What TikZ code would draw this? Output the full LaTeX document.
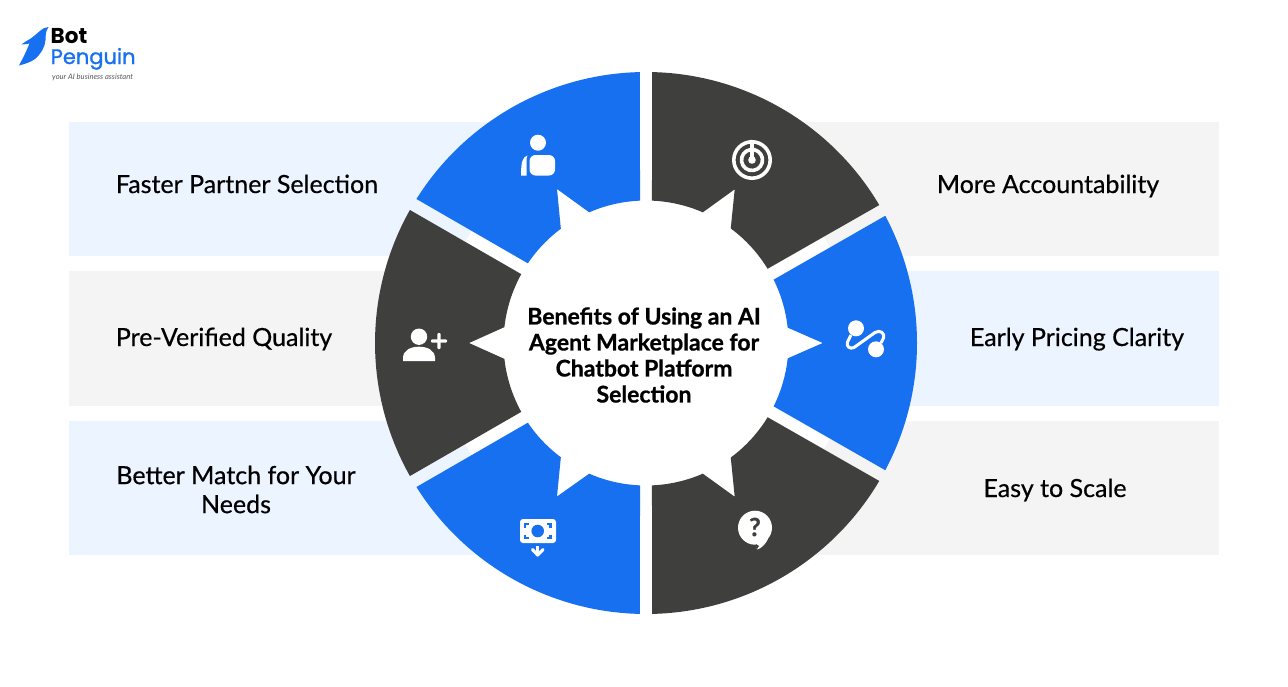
\documentclass[tikz,border=0pt]{standalone}
\usepackage{fontspec}
\setmainfont{Lato}
\newfontfamily\labelfont[FakeBold=0.5]{Lato}
\newfontfamily\titlefont[FakeBold=0.8]{Lato Bold}
\newfontfamily\logofont{Poppins}
\newfontfamily\logofontb[FakeBold=1]{Poppins}
\definecolor{bpblue}{HTML}{1670F0}
\definecolor{bpdark}{HTML}{3F3F3D}
\definecolor{lightblue}{HTML}{ECF5FF}
\definecolor{lightgrey}{HTML}{F4F4F4}
\definecolor{taggrey}{HTML}{555555}
\tikzset{
  bandblue/.style={fill=lightblue,draw=none},
  bandgrey/.style={fill=lightgrey,draw=none},
  sectblue/.style={fill=bpblue,draw=none},
  sectdark/.style={fill=bpdark,draw=none},
  label/.style={font=\labelfont\fontsize{25}{29}\selectfont,text=black,align=center,inner sep=0pt},
  single/.style={label,text height=17pt,text depth=5pt},
  centre/.style={font=\titlefont\fontsize{23}{26}\selectfont,text=black,align=center,inner sep=0pt},
  iconw/.style={fill=white,draw=none},
  iconl/.style={draw=white,line width=3.6pt,fill=none}
}
\begin{document}
\begin{tikzpicture}[x=1pt,y=-1pt]
\useasboundingbox (0,0) rectangle (1288,686);
\fill[white] (0,0) rectangle (1288,686);
% bands
\fill[bandblue] (69,122) rectangle (600,256);
\fill[bandgrey] (69,271) rectangle (600,406);
\fill[bandblue] (69,421) rectangle (600,555);
\fill[bandgrey] (700,122) rectangle (1219,256);
\fill[bandblue] (700,271) rectangle (1219,406);
\fill[bandgrey] (700,421) rectangle (1219,555);
\fill[white] (646,343) circle (207pt);
% sectors
\begin{scope}[shift={(646,343)},y=1pt]
\fill[sectblue] (91.3:271pt) arc[start angle=91.3,end angle=147.9,radius=271pt] -- (146:142.5pt) arc[start angle=146,end angle=126.7,radius=142.5pt] -- (-89,154) -- (113.5:142.5pt) arc[start angle=113.5,end angle=92.4,radius=142.5pt] -- cycle;
\fill[sectdark] (88.7:271pt) arc[start angle=88.7,end angle=30.6,radius=271pt] -- (31.4:142.5pt) arc[start angle=31.4,end angle=53.5,radius=142.5pt] -- (88.7,153.7) -- (66.5:142.5pt) arc[start angle=66.5,end angle=87.6,radius=142.5pt] -- cycle;
\fill[sectblue] (28:271pt) arc[start angle=28,end angle=-28,radius=271pt] -- (-26.4:142.5pt) arc[start angle=-26.4,end angle=-6.2,radius=142.5pt] -- (176.7,0) -- (6.2:142.5pt) arc[start angle=6.2,end angle=26.4,radius=142.5pt] -- cycle;
\fill[sectdark] (271.3:271pt) arc[start angle=271.3,end angle=329.4,radius=271pt] -- (328.6:142.5pt) arc[start angle=328.6,end angle=306.5,radius=142.5pt] -- (88.7,-153.7) -- (293.5:142.5pt) arc[start angle=293.5,end angle=272.4,radius=142.5pt] -- cycle;
\fill[sectblue] (268.7:271pt) arc[start angle=268.7,end angle=212.1,radius=271pt] -- (214:142.5pt) arc[start angle=214,end angle=233.3,radius=142.5pt] -- (-89,-153.5) -- (246.5:142.5pt) arc[start angle=246.5,end angle=267.6,radius=142.5pt] -- cycle;
\fill[sectdark] (150.6:271pt) arc[start angle=150.6,end angle=209.4,radius=271pt] -- (208.9:142.5pt) arc[start angle=208.9,end angle=186.4,radius=142.5pt] -- (-177,0) -- (173.6:142.5pt) arc[start angle=173.6,end angle=151.1,radius=142.5pt] -- cycle;
\end{scope}
% labels
\node[single] (l1) at (247,187) {Faster Partner Selection};
\node[single] (l2) at (224,340) {Pre-Verified Quality};
\node[label] (l3) at (236,489.5) {Better Match for Your\\Needs};
\node[single] (r1) at (1048,187) {More Accountability};
\node[single] (r2) at (1077,340) {Early Pricing Clarity};
\node[single] (r3) at (1055,491) {Easy to Scale};
\node[centre] (title) at (644,355) {Benefits of Using an AI\\Agent Marketplace for\\Chatbot Platform\\Selection};
% icon: person
\fill[iconw] (538,142.7) circle (8pt);
\fill[iconw,rounded corners=6pt] (529.5,155) rectangle (555,175.5);
\fill[iconw] (527.5,155.5) .. controls (522.5,157) and (521,162) .. (521,175.5) -- (526.5,175.5) -- (526.5,160) .. controls (526.5,158) and (527,156.5) .. (527.5,155.5) -- cycle;
% icon: radar
\begin{scope}[shift={(752,160)},y=1pt]
\draw[iconl] (0,0) -- (0,18.2) arc[start angle=90,end angle=-317,radius=18.2pt];
\draw[iconl] (98:10.5pt) arc[start angle=98,end angle=-345,radius=10.5pt];
\fill[iconw] (0,0) circle (3.8pt);
\end{scope}
% icon: person plus
\fill[iconw] (419,336.7) circle (8.2pt);
\fill[iconw] (403,361) -- (403,358) .. controls (403,350) and (411,346.7) .. (419,346.7) .. controls (427,346.7) and (435,350) .. (435,358) -- (435,361) -- cycle;
\fill[iconw,rounded corners=1pt] (431,339.3) rectangle (447,342.7);
\fill[iconw,rounded corners=1pt] (437.3,333) rectangle (440.7,349);
% icon: link
\fill[iconw] (856,328.3) circle (8pt);
\fill[iconw] (876,349.3) circle (8pt);
\draw[iconl,line width=3pt] (851,335) -- (847.5,342) .. controls (846,346.5) and (850,349.5) .. (854,347.5) -- (875,332.5) .. controls (880,329.5) and (885,333) .. (883.5,338) -- (881,343);
% icon: money
\fill[iconw,rounded corners=3pt] (520,519) rectangle (556,543);
\fill[bpblue] (537.7,531) circle (6.3pt);
\draw[bpblue,line width=2.2pt] (525,527.5) -- (525,524) -- (528.5,524);
\draw[bpblue,line width=2.2pt] (550.5,527.5) -- (550.5,524) -- (547,524);
\draw[bpblue,line width=2.2pt] (525,534.5) -- (525,538) -- (528.5,538);
\draw[bpblue,line width=2.2pt] (550.5,534.5) -- (550.5,538) -- (547,538);
\draw[white,line width=3.2pt] (537.7,546) -- (537.7,554);
\draw[white,line width=3.2pt,line cap=round,line join=round] (532.5,549.5) -- (537.7,555) -- (543,549.5);
% icon: question
\fill[iconw] (755,527.7) circle (17pt);
\fill[iconw] (756,540) -- (757,549.5) .. controls (761,548.5) and (765,545) .. (768,539) -- cycle;
\fill[bpdark] (756.7,549.6) -- (756,544) -- (759,546) -- cycle;
\node[inner sep=0pt,text=bpdark,font=\titlefont\fontsize{25}{25}\selectfont] (q) at (755,527) {?};
% logo
\fill[bpblue] (48.5,27) .. controls (45,27.6) and (42.5,28.3) .. (40.5,30.5) .. controls (37,33.5) and (33,37) .. (30,39) .. controls (27,41) and (24,42) .. (21.5,44.5) .. controls (24.5,44.5) and (27,44) .. (29.5,43.5) .. controls (27,50) and (23,58) .. (19,65.5) .. controls (25,64) and (31,62) .. (35,59) .. controls (41,54) and (45,47) .. (45.5,40) .. controls (45.8,36) and (45,32.5) .. (48.5,27) -- cycle;
\node[inner sep=0pt,anchor=base west,text=black,font=\logofont\bfseries\fontsize{21.5}{22}\selectfont] (bot) at (50.5,43.5) {Bot};
\node[inner sep=0pt,anchor=base west,text=bpblue,font=\logofontb\fontsize{21}{22}\selectfont] (pen) at (50.5,64) {Penguin};
\node[inner sep=0pt,anchor=base west,text=taggrey,font=\fontsize{7.6}{7}\itshape\selectfont] (tag) at (52,79.5) {your AI business assistant};
\end{tikzpicture}
\end{document}
